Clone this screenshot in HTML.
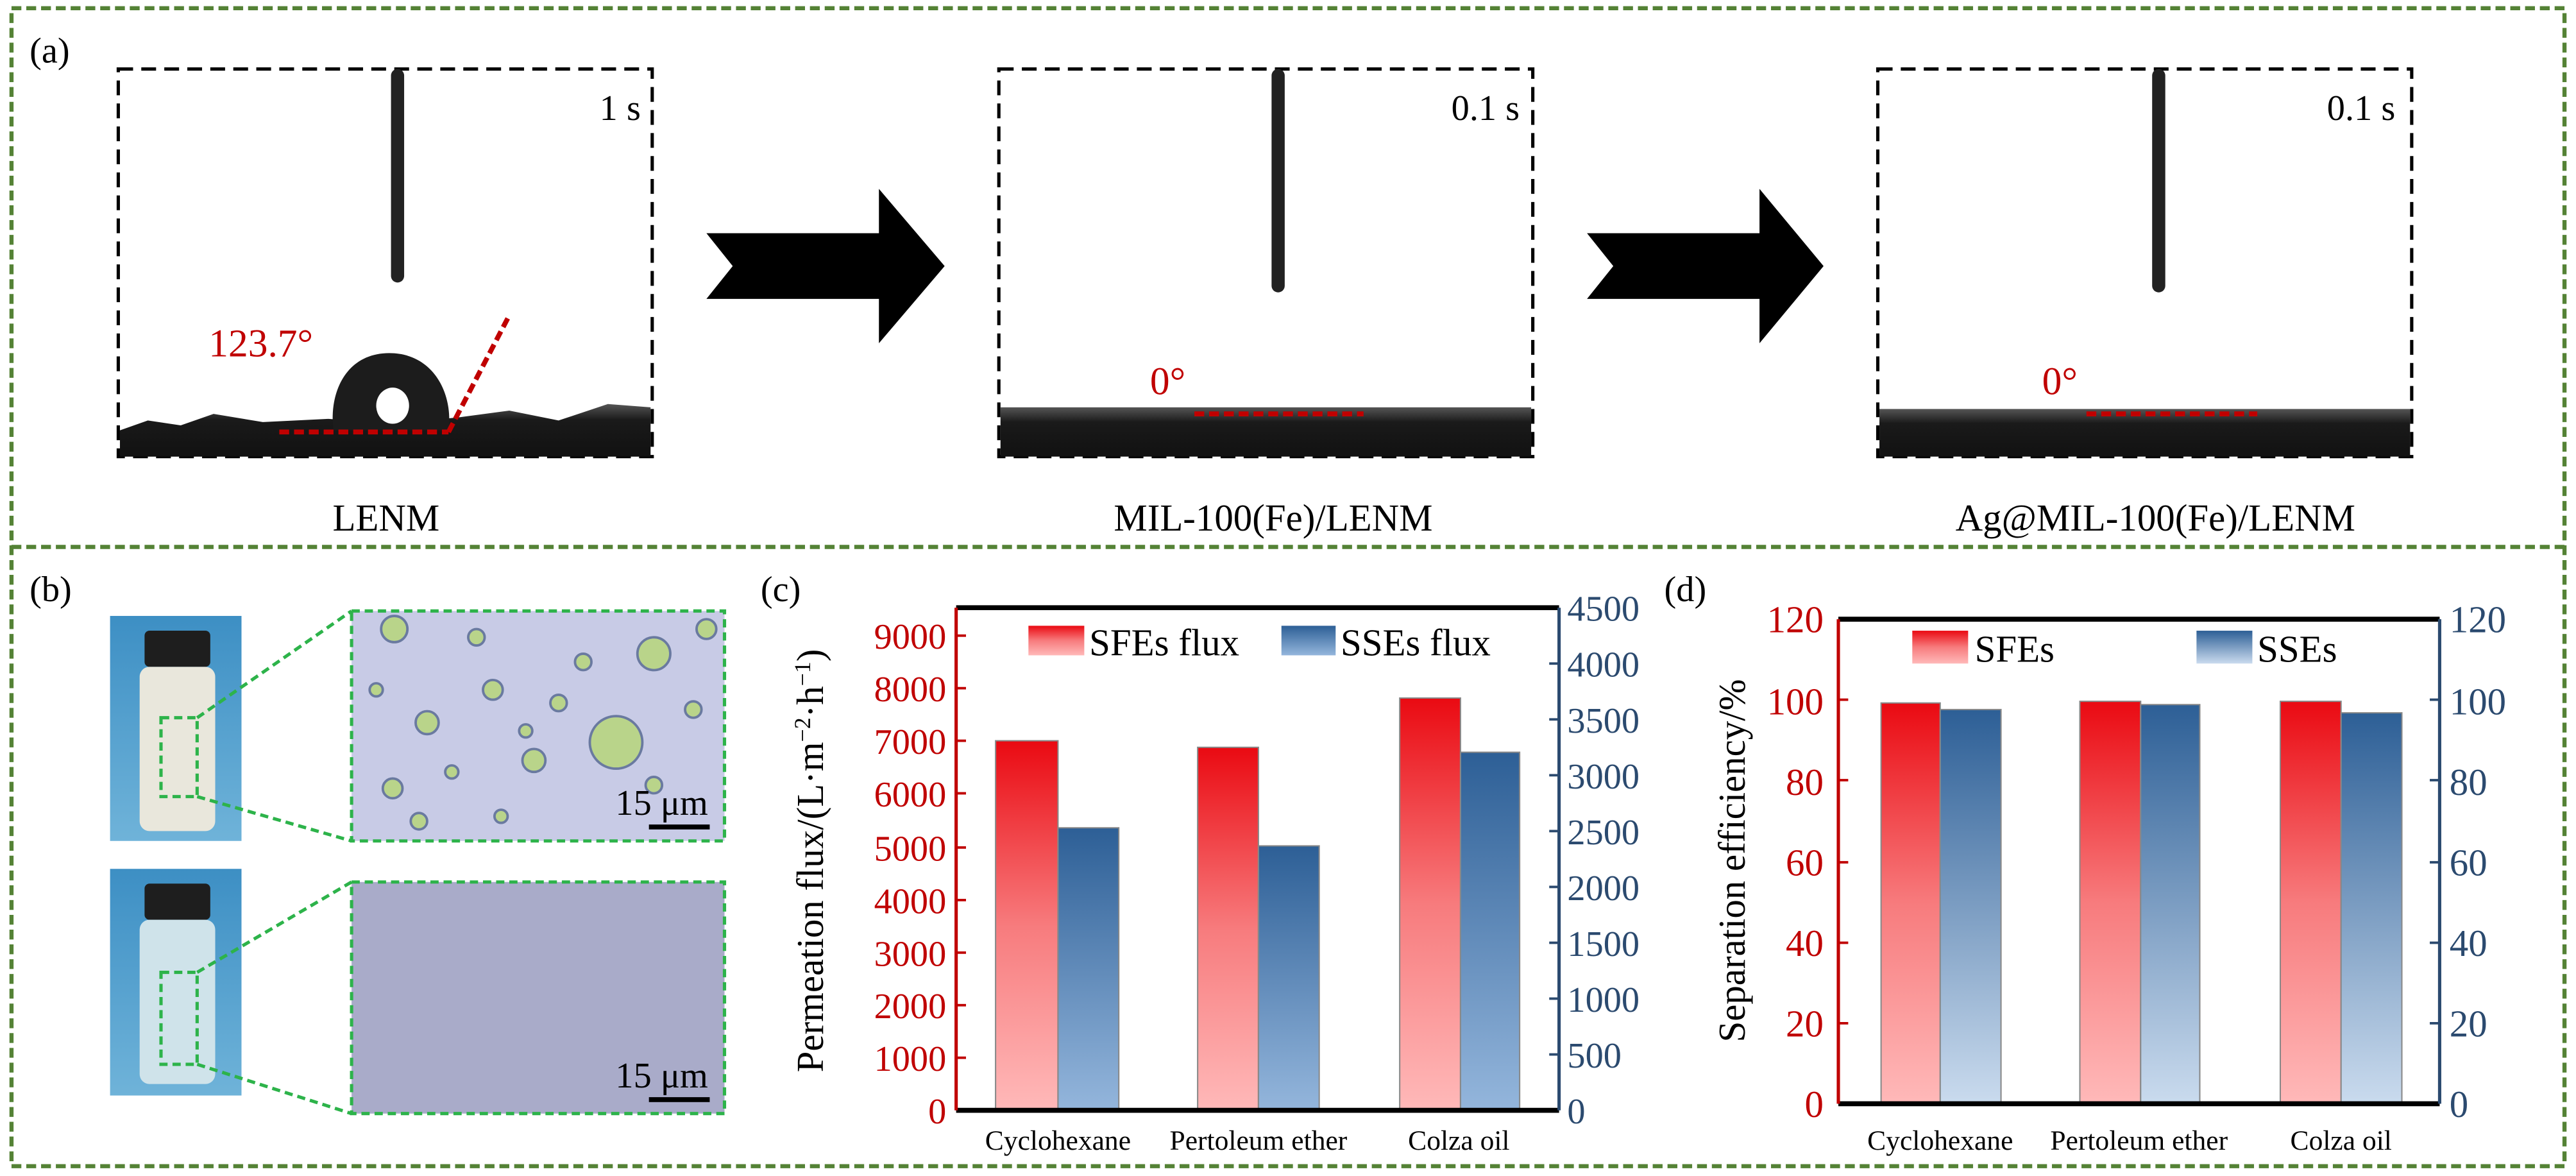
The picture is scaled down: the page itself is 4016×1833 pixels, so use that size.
<!DOCTYPE html>
<html><head><meta charset="utf-8"><style>html,body{margin:0;padding:0;background:#fff}svg{display:block}</style></head>
<body>
<svg width="4016" height="1833" viewBox="0 0 1568 716" preserveAspectRatio="none" xmlns="http://www.w3.org/2000/svg" font-family="'Liberation Serif',serif">
<defs>
<linearGradient id="rg" x1="0" y1="0" x2="0" y2="1"><stop offset="0" stop-color="#ea0a12"/><stop offset="0.5" stop-color="#f77b7d"/><stop offset="1" stop-color="#ffb9b9"/></linearGradient>
<linearGradient id="bg1" x1="0" y1="0" x2="0" y2="1"><stop offset="0" stop-color="#2d5f96"/><stop offset="1" stop-color="#94b6dc"/></linearGradient>
<linearGradient id="bg2" x1="0" y1="0" x2="0" y2="1"><stop offset="0" stop-color="#2d5f96"/><stop offset="1" stop-color="#cadbee"/></linearGradient>
<linearGradient id="gr" x1="0" y1="0" x2="0" y2="1"><stop offset="0" stop-color="#555"/><stop offset="0.3" stop-color="#1a1a1a"/><stop offset="1" stop-color="#111"/></linearGradient>
<linearGradient id="vial" x1="0" y1="0" x2="0" y2="1"><stop offset="0" stop-color="#3d8fc4"/><stop offset="1" stop-color="#6fb3d9"/></linearGradient>
</defs>
<rect x="7" y="5" width="1554" height="705" fill="none" stroke="#548235" stroke-width="2.5" stroke-dasharray="6,3"/>
<line x1="7" y1="333" x2="1561" y2="333" stroke="#548235" stroke-width="2.5" stroke-dasharray="6,3"/>
<text x="18" y="38" font-size="22">(a)</text>
<g fill="none" stroke="#000" stroke-width="2" stroke-dasharray="9,5">
<rect x="72" y="42" width="325" height="236"/><rect x="608" y="42" width="325" height="236"/><rect x="1143" y="42" width="325" height="236"/>
</g>
<path d="M73,278 L73,262 L90,256 L110,259 L130,252 L160,257 L200,255 L240,258 L280,254 L310,250 L340,256 L370,246 L396,248 L396,278Z" fill="url(#gr)"/>
<rect x="609" y="248" width="323" height="30" fill="url(#gr)"/>
<rect x="1144" y="249" width="323" height="29" fill="url(#gr)"/>
<rect x="238" y="42" width="8" height="130" rx="4" fill="#222"/>
<rect x="774" y="42" width="8" height="136" rx="4" fill="#222"/>
<rect x="1310" y="42" width="8" height="136" rx="4" fill="#222"/>
<path d="M203,262 C200,240 210,215 237,215 C264,215 276,240 273,262Z" fill="#1c1c1c"/>
<ellipse cx="239" cy="247" rx="10" ry="11" fill="#fff"/>
<g stroke="#c00000" stroke-width="3" stroke-dasharray="6,3" fill="none">
<line x1="170" y1="263" x2="273" y2="263"/><line x1="273" y1="263" x2="310" y2="192"/>
<line x1="727" y1="252" x2="830" y2="252"/><line x1="1270" y1="252" x2="1374" y2="252"/>
</g>
<text x="127" y="217" font-size="24" fill="#c00000">123.7°</text>
<text x="700" y="240" font-size="24" fill="#c00000">0°</text>
<text x="1243" y="240" font-size="24" fill="#c00000">0°</text>
<text x="390" y="73" font-size="22" text-anchor="end">1 s</text>
<text x="925" y="73" font-size="22" text-anchor="end">0.1 s</text>
<text x="1458" y="73" font-size="22" text-anchor="end">0.1 s</text>
<path d="M430,142 L535,142 L535,115 L575,162 L535,209 L535,182 L430,182 L446,162Z" fill="#000"/>
<path d="M966,142 L1071,142 L1071,115 L1110,162 L1071,209 L1071,182 L966,182 L982,162Z" fill="#000"/>
<g font-size="23" text-anchor="middle">
<text x="235" y="323">LENM</text><text x="775" y="323">MIL-100(Fe)/LENM</text><text x="1312" y="323">Ag@MIL-100(Fe)/LENM</text>
</g>
<text x="18" y="366" font-size="22">(b)</text>
<rect x="67" y="375" width="80" height="137" fill="url(#vial)"/>
<rect x="88" y="384" width="40" height="22" rx="3" fill="#1e1e1e"/>
<rect x="85" y="406" width="46" height="100" rx="6" fill="#e9e7dc"/>
<rect x="67" y="529" width="80" height="138" fill="url(#vial)"/>
<rect x="88" y="538" width="40" height="22" rx="3" fill="#1e1e1e"/>
<rect x="85" y="560" width="46" height="100" rx="6" fill="#cfe3ea"/>
<rect x="214" y="372" width="227" height="140" fill="#c8cbe6"/>
<g fill="#b9d48a" stroke="#6a7aa0" stroke-width="1.5">
<circle cx="240" cy="383" r="8"/><circle cx="290" cy="388" r="5"/><circle cx="398" cy="398" r="10"/><circle cx="375" cy="452" r="16"/><circle cx="300" cy="420" r="6"/><circle cx="260" cy="440" r="7"/><circle cx="325" cy="463" r="7"/><circle cx="239" cy="480" r="6"/><circle cx="355" cy="403" r="5"/><circle cx="430" cy="383" r="6"/><circle cx="398" cy="478" r="5"/><circle cx="320" cy="445" r="4"/><circle cx="275" cy="470" r="4"/><circle cx="340" cy="428" r="5"/><circle cx="229" cy="420" r="4"/><circle cx="422" cy="432" r="5"/><circle cx="305" cy="497" r="4"/><circle cx="255" cy="500" r="5"/>
</g>
<rect x="214" y="537" width="227" height="141" fill="#a9abc9"/>
<g fill="none" stroke="#2db34a" stroke-width="2" stroke-dasharray="5,3">
<rect x="214" y="372" width="227" height="140"/><rect x="214" y="537" width="227" height="141"/>
<rect x="98" y="437" width="22" height="48"/><rect x="98" y="592" width="22" height="56"/>
<line x1="120" y1="437" x2="214" y2="372"/><line x1="120" y1="485" x2="214" y2="512"/>
<line x1="120" y1="592" x2="214" y2="537"/><line x1="120" y1="648" x2="214" y2="678"/>
</g>
<text x="431" y="496" font-size="22" text-anchor="end">15 μm</text>
<rect x="395" y="502" width="37" height="3" fill="#000"/>
<text x="431" y="662" font-size="22" text-anchor="end">15 μm</text>
<rect x="395" y="668" width="37" height="3" fill="#000"/>
<!-- (c) -->
<text x="463" y="366" font-size="22">(c)</text>
<g stroke="#888" stroke-width="0.8">
<rect x="606" y="451" width="38" height="225" fill="url(#rg)"/><rect x="644" y="504" width="37" height="172" fill="url(#bg1)"/>
<rect x="729" y="455" width="37" height="221" fill="url(#rg)"/><rect x="766" y="515" width="37" height="161" fill="url(#bg1)"/>
<rect x="852" y="425" width="37" height="251" fill="url(#rg)"/><rect x="889" y="458" width="36" height="218" fill="url(#bg1)"/>
</g>
<line x1="582" y1="370" x2="949" y2="370" stroke="#000" stroke-width="3"/>
<line x1="582" y1="676" x2="949" y2="676" stroke="#000" stroke-width="3"/>
<line x1="582" y1="370" x2="582" y2="676" stroke="#c00000" stroke-width="2"/>
<line x1="949" y1="370" x2="949" y2="676" stroke="#2b4a6f" stroke-width="2"/>
<g font-size="22" fill="#c00000" text-anchor="end">
<text x="576" y="684">0</text><text x="576" y="652">1000</text><text x="576" y="620">2000</text><text x="576" y="588">3000</text><text x="576" y="556">4000</text><text x="576" y="524">5000</text><text x="576" y="491">6000</text><text x="576" y="459">7000</text><text x="576" y="427">8000</text><text x="576" y="395">9000</text>
</g>
<g stroke="#c00000" stroke-width="1.5">
<line x1="582" y1="644" x2="588" y2="644"/><line x1="582" y1="612" x2="588" y2="612"/><line x1="582" y1="580" x2="588" y2="580"/><line x1="582" y1="548" x2="588" y2="548"/><line x1="582" y1="516" x2="588" y2="516"/><line x1="582" y1="483" x2="588" y2="483"/><line x1="582" y1="451" x2="588" y2="451"/><line x1="582" y1="419" x2="588" y2="419"/><line x1="582" y1="387" x2="588" y2="387"/>
</g>
<g font-size="22" fill="#2b4a6f">
<text x="954" y="684">0</text><text x="954" y="650">500</text><text x="954" y="616">1000</text><text x="954" y="582">1500</text><text x="954" y="548">2000</text><text x="954" y="514">2500</text><text x="954" y="480">3000</text><text x="954" y="446">3500</text><text x="954" y="412">4000</text><text x="954" y="378">4500</text>
</g>
<g stroke="#2b4a6f" stroke-width="1.5">
<line x1="943" y1="642" x2="949" y2="642"/><line x1="943" y1="608" x2="949" y2="608"/><line x1="943" y1="574" x2="949" y2="574"/><line x1="943" y1="540" x2="949" y2="540"/><line x1="943" y1="506" x2="949" y2="506"/><line x1="943" y1="472" x2="949" y2="472"/><line x1="943" y1="438" x2="949" y2="438"/><line x1="943" y1="404" x2="949" y2="404"/>
</g>
<text transform="translate(501,524) rotate(-90)" font-size="23" text-anchor="middle">Permeation flux/(L·m<tspan baseline-shift="super" font-size="14">−2</tspan>·h<tspan baseline-shift="super" font-size="14">−1</tspan>)</text>
<rect x="626" y="381" width="34" height="18" fill="url(#rg)"/><text x="663" y="399" font-size="23">SFEs flux</text>
<rect x="780" y="381" width="33" height="18" fill="url(#bg1)"/><text x="816" y="399" font-size="23">SSEs flux</text>
<g font-size="17" text-anchor="middle"><text x="644" y="700">Cyclohexane</text><text x="766" y="700">Pertoleum ether</text><text x="888" y="700">Colza oil</text></g>
<!-- (d) -->
<text x="1013" y="366" font-size="22">(d)</text>
<g stroke="#888" stroke-width="0.8">
<rect x="1145" y="428" width="36" height="244" fill="url(#rg)"/><rect x="1181" y="432" width="37" height="240" fill="url(#bg2)"/>
<rect x="1266" y="427" width="37" height="245" fill="url(#rg)"/><rect x="1303" y="429" width="36" height="243" fill="url(#bg2)"/>
<rect x="1388" y="427" width="37" height="245" fill="url(#rg)"/><rect x="1425" y="434" width="37" height="238" fill="url(#bg2)"/>
</g>
<line x1="1119" y1="377" x2="1485" y2="377" stroke="#000" stroke-width="3"/>
<line x1="1119" y1="672" x2="1485" y2="672" stroke="#000" stroke-width="3"/>
<line x1="1119" y1="377" x2="1119" y2="672" stroke="#c00000" stroke-width="2"/>
<line x1="1485" y1="377" x2="1485" y2="672" stroke="#2b4a6f" stroke-width="2"/>
<g stroke="#c00000" stroke-width="1.5">
<line x1="1119" y1="623" x2="1125" y2="623"/><line x1="1119" y1="574" x2="1125" y2="574"/><line x1="1119" y1="525" x2="1125" y2="525"/><line x1="1119" y1="475" x2="1125" y2="475"/><line x1="1119" y1="426" x2="1125" y2="426"/>
</g>
<g stroke="#2b4a6f" stroke-width="1.5">
<line x1="1479" y1="623" x2="1485" y2="623"/><line x1="1479" y1="574" x2="1485" y2="574"/><line x1="1479" y1="525" x2="1485" y2="525"/><line x1="1479" y1="475" x2="1485" y2="475"/><line x1="1479" y1="426" x2="1485" y2="426"/>
</g>
<g font-size="23" fill="#c00000" text-anchor="end">
<text x="1110" y="680">0</text><text x="1110" y="631">20</text><text x="1110" y="582">40</text><text x="1110" y="533">60</text><text x="1110" y="484">80</text><text x="1110" y="435">100</text><text x="1110" y="385">120</text>
</g>
<g font-size="23" fill="#2b4a6f">
<text x="1491" y="680">0</text><text x="1491" y="631">20</text><text x="1491" y="582">40</text><text x="1491" y="533">60</text><text x="1491" y="484">80</text><text x="1491" y="435">100</text><text x="1491" y="385">120</text>
</g>
<text transform="translate(1062,524) rotate(-90)" font-size="23" text-anchor="middle">Separation efficiency/%</text>
<rect x="1164" y="384" width="34" height="20" fill="url(#rg)"/><text x="1202" y="403" font-size="23">SFEs</text>
<rect x="1337" y="384" width="34" height="20" fill="url(#bg2)"/><text x="1374" y="403" font-size="23">SSEs</text>
<g font-size="17" text-anchor="middle"><text x="1181" y="700">Cyclohexane</text><text x="1302" y="700">Pertoleum ether</text><text x="1425" y="700">Colza oil</text></g>
</svg>
</body></html>
